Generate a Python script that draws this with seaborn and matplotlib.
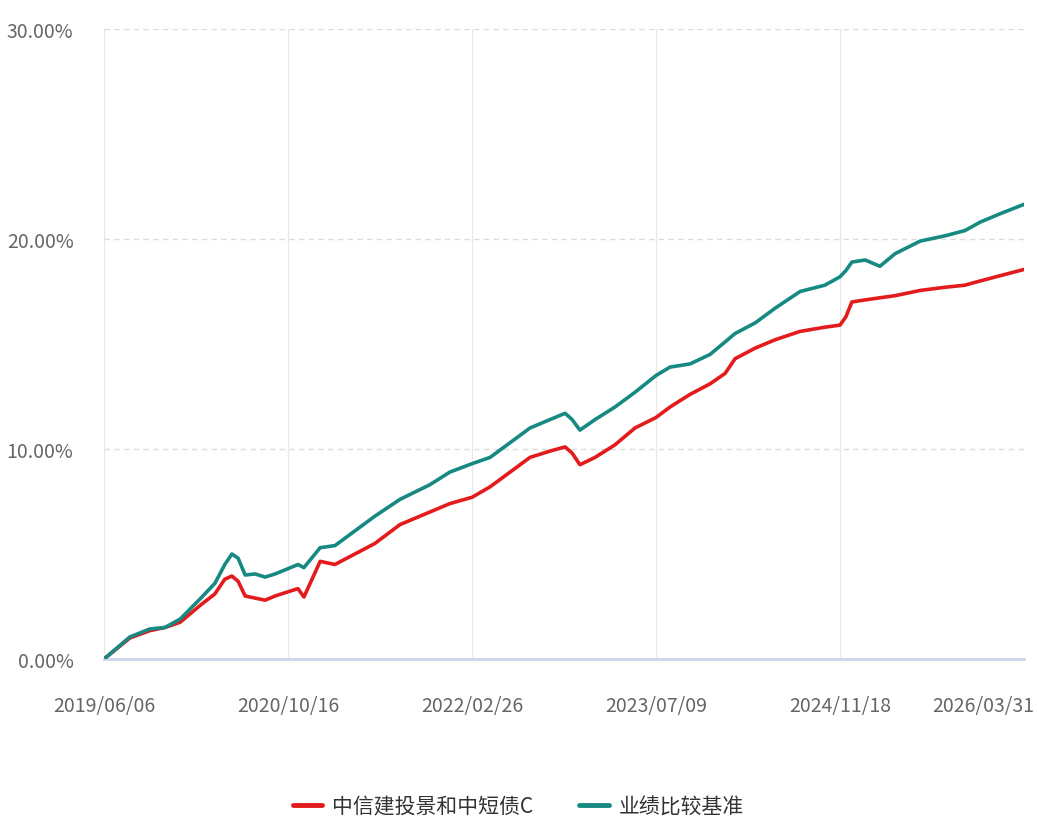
import matplotlib
matplotlib.use("Agg")
import matplotlib.pyplot as plt
import matplotlib.transforms as mtransforms
import seaborn as sns
import pandas as pd
from matplotlib.lines import Line2D

dates = ["2019-06-06", "2019-08-15", "2019-10-08", "2019-11-18", "2019-12-29",
         "2020-02-21", "2020-04-01", "2020-04-28", "2020-05-17", "2020-06-03",
         "2020-06-22", "2020-07-19", "2020-08-15", "2020-09-11", "2020-10-16",
         "2020-11-12", "2020-11-28", "2021-01-11", "2021-02-20", "2021-04-15",
         "2021-06-08", "2021-08-15", "2021-11-04", "2021-12-28", "2022-02-26",
         "2022-04-16", "2022-06-09", "2022-08-02", "2022-09-25", "2022-11-05",
         "2022-11-24", "2022-12-15", "2023-01-25", "2023-03-20", "2023-05-13",
         "2023-07-09", "2023-08-16", "2023-10-09", "2023-12-02", "2024-01-12",
         "2024-02-08", "2024-04-02", "2024-05-26", "2024-08-02", "2024-10-08",
         "2024-11-18", "2024-12-04", "2024-12-20", "2025-01-25", "2025-03-06",
         "2025-04-16", "2025-06-23", "2025-08-29", "2025-10-22", "2025-12-02",
         "2026-01-25", "2026-03-31"]

fund = [0.0, 1.0, 1.35, 1.5, 1.75,
        2.55, 3.1, 3.8, 3.95, 3.7,
        3.0, 2.9, 2.8, 3.0, 3.2,
        3.35, 2.95, 4.65, 4.5, 5.0,
        5.5, 6.4, 7.0, 7.4, 7.7,
        8.2, 8.9, 9.6, 9.9, 10.1,
        9.8, 9.25, 9.6, 10.2, 11.0,
        11.5, 12.0, 12.6, 13.1, 13.6,
        14.3, 14.8, 15.2, 15.6, 15.8,
        15.9, 16.3, 17.0, 17.1, 17.2,
        17.3, 17.55, 17.7, 17.8, 18.0,
        18.25, 18.55]

bench = [0.0, 1.05, 1.43, 1.5, 1.9,
         2.86, 3.6, 4.5, 5.0, 4.8,
         4.0, 4.05, 3.9, 4.05, 4.3,
         4.5, 4.35, 5.3, 5.4, 6.1,
         6.8, 7.6, 8.3, 8.9, 9.3,
         9.6, 10.3, 11.0, 11.4, 11.7,
         11.4, 10.9, 11.4, 12.0, 12.7,
         13.5, 13.9, 14.05, 14.5, 15.1,
         15.5, 16.0, 16.7, 17.5, 17.8,
         18.2, 18.5, 18.9, 19.0, 18.7,
         19.3, 19.9, 20.15, 20.4, 20.8,
         21.2, 21.65]

series_names = ["中信建投景和中短债C", "业绩比较基准"]
tick_labels = ["2019/06/06", "2020/10/16", "2022/02/26", "2023/07/09", "2024/11/18", "2026/03/31"]
y_ticks = [0, 10, 20, 30]

colors = {"中信建投景和中短债C": "#e31b1d", "业绩比较基准": "#168a82"}

sns.set_theme(style="white")
plt.rcParams['font.family'] = ['Noto Sans CJK SC', 'DejaVu Sans']

df = pd.DataFrame({
    "date": pd.to_datetime(dates * 2),
    "value": fund + bench,
    "series": [series_names[0]] * len(dates) + [series_names[1]] * len(dates),
})

fig = plt.figure(figsize=(10.37, 8.28), dpi=100)
ax = fig.add_axes([0.1003, 0.2029, 0.8872, 0.7609])

sns.lineplot(data=df, x="date", y="value", hue="series", palette=colors,
             hue_order=series_names, linewidth=2.6, ax=ax, legend=False, zorder=3)

tick_dates = pd.to_datetime(tick_labels, format="%Y/%m/%d")
ax.set_xlim(tick_dates[0], tick_dates[-1])
ax.set_ylim(0, 30)
ax.set_xticks(tick_dates)
ax.set_xticklabels(tick_labels)
ax.set_yticks(y_ticks)
ax.set_yticklabels([f"{v:.2f}%" for v in y_ticks])
ax.set_xlabel("")
ax.set_ylabel("")

for v in y_ticks[1:]:
    ax.axhline(v, color="#dcdcdc", linestyle=(0, (4, 3)), linewidth=1.0, zorder=1)
for d in tick_dates:
    ax.axvline(d, color="#e8e8e8", linewidth=0.9, zorder=1)

for s in ["top", "right", "left"]:
    ax.spines[s].set_visible(False)
ax.spines["bottom"].set_color("#ccd6eb")
ax.spines["bottom"].set_linewidth(2)
ax.spines["bottom"].set_zorder(2)

ax.tick_params(axis="x", labelcolor="#666666", labelsize=14, length=10, width=0.9,
               direction="out", pad=16, color="#e0e0e0")
ax.tick_params(axis="y", labelcolor="#666666", labelsize=14, length=0, pad=22)

# last x label shifted left so it stays inside the figure
last = ax.get_xticklabels()[-1]
last.set_horizontalalignment("right")
last.set_transform(last.get_transform() + mtransforms.ScaledTranslation(10 / 100, 0, fig.dpi_scale_trans))

handles = [Line2D([0], [0], color=colors[n], linewidth=3.5) for n in series_names]
fig.legend(handles, series_names, loc="center", bbox_to_anchor=(0.5, 0.025),
           ncol=2, frameon=False, fontsize=15, handlelength=1.4,
           columnspacing=2.2, handletextpad=0.5, labelcolor="#333333")

fig.savefig("out.png", dpi=100)
